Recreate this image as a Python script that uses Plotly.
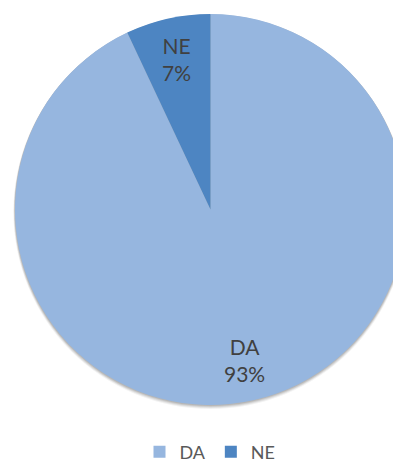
import math
import plotly.graph_objects as go

labels = ["DA", "NE"]
values = [93, 7]
colors = ["#96b6df", "#4d85c2"]

W, H = 401, 465
OFF = 8  # default body margin of the written page
CX, CY, R = 210.5 - OFF, 209.5 - OFF, 195.5   # pie centre / radius in figure pixels
LABEL_R = 0.79

fig = go.Figure(go.Pie(
    labels=labels,
    values=values,
    sort=False,
    direction="clockwise",
    rotation=0,
    marker=dict(colors=colors, line=dict(color="rgba(0,0,0,0)", width=0)),
    textinfo="none",
    domain=dict(x=[(CX - R) / W, (CX + R) / W], y=[(H - CY - R) / H, (H - CY + R) / H]),
    hoverinfo="skip",
))

total = sum(values)
cum = 0
annotations = []
for lab, v in zip(labels, values):
    mid = (cum + v / 2) / total * 2 * math.pi
    cum += v
    px = CX + LABEL_R * R * math.sin(mid)
    py = CY - LABEL_R * R * math.cos(mid)
    annotations.append(dict(
        x=px / W, y=(H - py) / H, xref="paper", yref="paper",
        text=f"{lab}<br>{round(v / total * 100)}%", showarrow=False,
        xanchor="center", yanchor="middle", align="center",
        font=dict(family="Lato", size=21, color="#404040"),
    ))

# soft drop shadow under the pie
shapes = []
for d, a in [(4, 0.05), (3, 0.07), (2, 0.09), (1, 0.10)]:
    shapes.append(dict(
        type="circle", xref="paper", yref="paper", layer="below",
        x0=(CX - R - d * 0.4) / W, x1=(CX + R + d * 0.4) / W,
        y0=(H - (CY + R + d)) / H, y1=(H - (CY - R + d * 0.2)) / H,
        fillcolor=f"rgba(0,0,0,{a})", line=dict(width=0),
    ))

fig.update_layout(
    width=W, height=H,
    margin=dict(l=0, r=0, t=0, b=0, autoexpand=False),
    paper_bgcolor="white",
    showlegend=True,
    annotations=annotations,
    shapes=shapes,
    legend=dict(orientation="h", x=(210 - OFF) / W, xanchor="center",
                y=(H - (452 - OFF)) / H, yanchor="middle",
                font=dict(family="Lato", size=18, color="#595959"),
                itemwidth=30, tracegroupgap=0),
)
fig.write_html("out.html")
